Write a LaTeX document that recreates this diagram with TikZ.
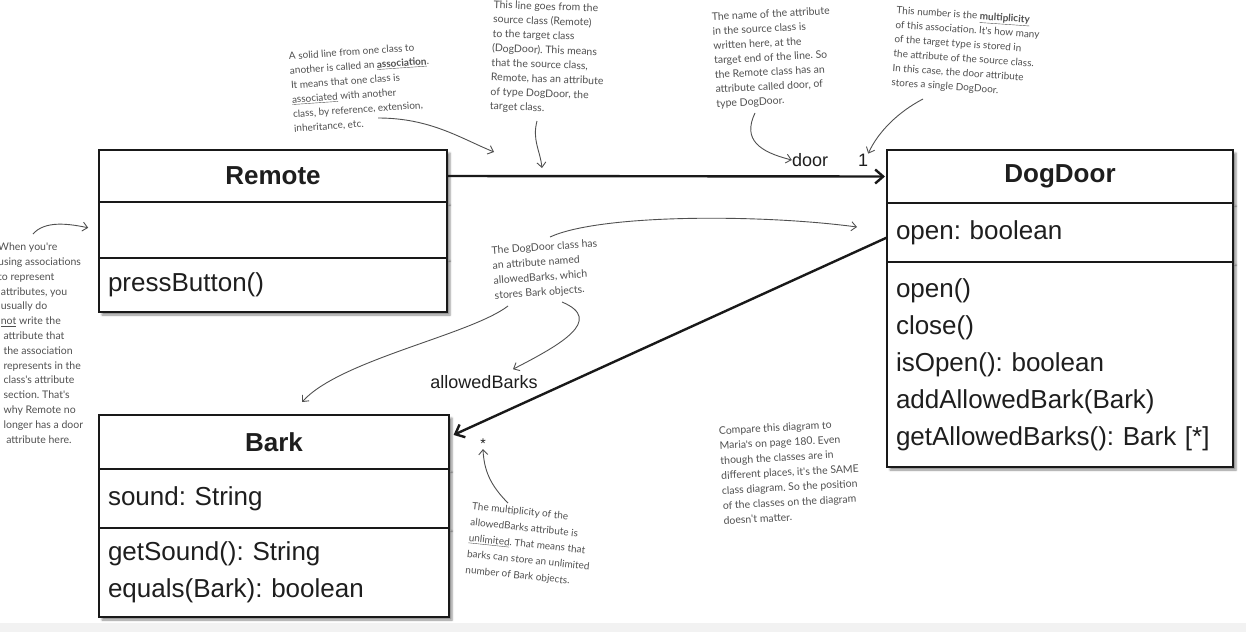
\documentclass[tikz,border=0pt]{standalone}
\usepackage{fontspec}
\setmainfont{Liberation Sans}
\newfontfamily\handfont{Lato}
\usepackage{tikz}
\usetikzlibrary{arrows.meta,positioning,shadows.blur}
\definecolor{boxline}{RGB}{25,25,25}
\definecolor{boxtext}{RGB}{30,30,30}
\definecolor{notegray}{RGB}{80,80,80}
\frenchspacing

\begin{document}
\begin{tikzpicture}[
    x=1pt, y=-1pt,
    classhead/.style={
        rectangle,
        draw=boxline,
        fill=white,
        line width=2.4pt,
        outer sep=0pt,
        inner xsep=9pt,
        inner ysep=0pt,
        text width=#1,
        align=center,
        text=boxtext,
        font=\fontsize{26}{30}\selectfont\bfseries,
        blur shadow={shadow xshift=3pt, shadow yshift=-3pt, shadow blur radius=2pt, shadow opacity=45}
    },
    classbody/.style={classhead=#1, align=left, font=\fontsize{26}{37}\selectfont},
    role/.style={font=\fontsize{18}{20}\selectfont, text=boxtext, inner sep=0pt},
    note/.style={font=\handfont\fontsize{10}{14.5}\selectfont, text=notegray, align=left, inner sep=0pt},
    noteline/.style={draw=notegray, line width=0.9pt, -{Straight Barb[length=5pt,width=9pt]}},
    assoc/.style={draw=boxline, line width=2.4pt, -{Straight Barb[length=8pt,width=14pt]}}
]
\useasboundingbox (0,0) rectangle (1246,632);
\fill[gray!10] (0,623) rectangle (1246,632);

% the three classes
\node[classhead=330pt, minimum height=52pt] (remote) at (273,176) {Remote};
\node[classbody=330pt, minimum height=56pt, below=0pt of remote] (remoteattr) {};
\node[classbody=330pt, minimum height=54pt, below=0pt of remoteattr] (remoteops) {pressButton()};

\node[classhead=328pt, minimum height=53pt] (doorhead) at (1060,176.5) {DogDoor};
\node[classbody=328pt, minimum height=59pt, below=0pt of doorhead] (doorattr) {open: boolean};
\node[classbody=328pt, minimum height=205pt, below=0pt of doorattr] (doorops)
    {open()\\close()\\isOpen(): boolean\\addAllowedBark(Bark)\\getAllowedBarks(): Bark [*]};

\node[classhead=332pt, minimum height=54pt] (barkhead) at (274,442) {Bark};
\node[classbody=332pt, minimum height=59pt, below=0pt of barkhead] (barkattr) {sound: String};
\node[classbody=332pt, minimum height=89pt, below=0pt of barkattr] (barkops)
    {getSound(): String\\equals(Bark): boolean};

% associations
\draw[assoc, shorten >=2pt] (remote.east) -- (doorhead.west);
\draw[assoc, shorten >=5pt] ([yshift=-5pt]doorattr.west) -- ([yshift=5pt]barkhead.east);

\node[role] (doorrole) at (810,160) {door};
\node[role] (doormult) at (863,160) {1};
\node[role] (barkrole) at (484,382) {allowedBarks};
\node[role, font=\fontsize{14}{16}\selectfont] (barkmult) at (483,444) {*};

% handwritten notes
\node[note, rotate=4] (assocnote) at (361,88)
    {A solid line from one class to\\another is called an \underline{\textbf{association}}.\\It means that one class is\\\underline{associated} with another\\class, by reference, extension,\\inheritance, etc.};
\node[note, rotate=-2, font=\handfont\fontsize{10.5}{14.5}\selectfont] (sourcenote) at (548,58)
    {This line goes from the\\source class (Remote)\\to the target class\\(DogDoor). This means\\that the source class,\\Remote, has an attribute\\of type DogDoor, the\\target class.};
\node[note, rotate=3, font=\handfont\fontsize{10.5}{14.5}\selectfont] (namenote) at (773,58)
    {The name of the attribute\\in the source class is\\written here, at the\\target end of the line. So\\the Remote class has an\\attribute called door, of\\type DogDoor.};
\node[note, rotate=-4] (multnote) at (966,52)
    {This number is the \underline{\textbf{multiplicity}}\\of this association. It's how many\\of the target type is stored in\\the attribute of the source class.\\In this case, the door attribute\\stores a single DogDoor.};
\node[note, anchor=west, font=\handfont\fontsize{10.5}{14.8}\selectfont] (leftnote) at (-2,343)
    {When you're\\using associations\\to represent\\\ attributes, you\\\ usually do\\\ \underline{not} write the\\\ \ attribute that\\\ \ the association\\\ \ represents in the\\\ \ class's attribute\\\ \ section. That's\\\ \ why Remote no\\\ \ longer has a door\\\ \ \ attribute here.};
\node[note, rotate=4, font=\handfont\fontsize{10.5}{15}\selectfont] (barksnote) at (546,270)
    {The DogDoor class has\\an attribute named\\allowedBarks, which\\stores Bark objects.};
\node[note, rotate=-6, font=\handfont\fontsize{10}{16}\selectfont] (unlimnote) at (530,545)
    {The multiplicity of the\\allowedBarks attribute is\\\underline{unlimited}. That means that\\barks can store an unlimited\\number of Bark objects.};
\node[note, rotate=3, font=\handfont\fontsize{10.5}{15}\selectfont] (comparenote) at (790,472)
    {Compare this diagram to\\Maria's on page 180. Even\\though the classes are in\\different places, it's the SAME\\class diagram. So the position\\of the classes on the diagram\\doesn't matter.};

% note pointers
\coordinate (assoctail) at (378,118);
\coordinate (assoctip) at (494,152);
\coordinate (sourcetail) at (537,121);
\coordinate (sourcetip) at (542,168);
\coordinate (nametail) at (755,113);
\coordinate (multtail) at (923,99);
\coordinate (lefttail) at (33,234);
\coordinate (attrtail) at (550,237);
\coordinate (attrtip) at (857,227);
\coordinate (roletail) at (562,302);
\coordinate (barktail) at (508,306);
\coordinate (unlimtail) at (508,503);

\draw[noteline] (assoctail) .. controls (430,118) and (460,138) .. (assoctip);
\draw[noteline] (sourcetail) .. controls (532,140) and (540,150) .. (sourcetip);
\draw[noteline] (nametail) .. controls (742,140) and (760,152) .. (doorrole.west);
\draw[noteline] (multtail) .. controls (898,112) and (878,132) .. (doormult.north east);
\draw[noteline, shorten >=11pt] (lefttail) .. controls (45,220) and (70,224) .. (remoteattr.west);
\draw[noteline] (attrtail) .. controls (600,214) and (760,214) .. (attrtip);
\draw[noteline] (roletail) .. controls (605,320) and (560,345) .. ([xshift=29pt,yshift=6pt]barkrole.north);
\draw[noteline] (barktail) .. controls (470,335) and (340,360) .. ([xshift=28pt,yshift=13pt]barkhead.north);
\draw[noteline] (unlimtail) .. controls (490,485) and (484,470) .. (barkmult.south);
\end{tikzpicture}
\end{document}
